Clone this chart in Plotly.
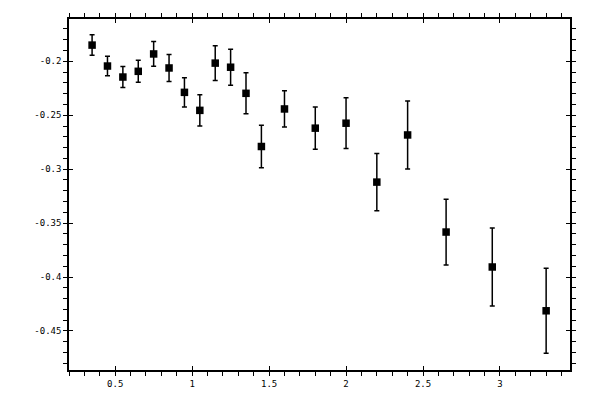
import plotly.graph_objects as go

x_vals = [0.35, 0.45, 0.55, 0.65, 0.75, 0.85, 0.95, 1.05, 1.15, 1.25, 1.35, 1.45,
          1.6, 1.8, 2.0, 2.2, 2.4, 2.65, 2.95, 3.3]
y_vals = [-0.185, -0.2044, -0.2146, -0.2093, -0.1932, -0.2062, -0.2288, -0.2455,
          -0.2017, -0.2055, -0.2297, -0.2790, -0.2442, -0.2620, -0.2574, -0.3120,
          -0.2683, -0.3583, -0.3907, -0.4313]
y_err = [0.0095, 0.0090, 0.0098, 0.0102, 0.0115, 0.0125, 0.0135, 0.0145, 0.0160,
         0.0167, 0.0190, 0.0198, 0.0168, 0.0196, 0.0235, 0.0265, 0.0315, 0.0305,
         0.0362, 0.0394]

x_ticks = [0.5, 1, 1.5, 2, 2.5, 3]
x_tick_text = ["0.5", "1", "1.5", "2", "2.5", "3"]
y_ticks = [-0.2, -0.25, -0.3, -0.35, -0.4, -0.45]
y_tick_text = ["-0.2", "-0.25", "-0.3", "-0.35", "-0.4", "-0.45"]

x_range = [0.2, 3.455]
y_range = [-0.4862, -0.1608]

fig = go.Figure()
fig.add_trace(go.Scatter(
    x=x_vals, y=y_vals, mode="markers",
    marker=dict(symbol="square", size=7.5, color="black"),
    error_y=dict(type="data", array=y_err, visible=True, color="black",
                 thickness=1.5, width=2.5),
    showlegend=False,
))
# invisible trace for inner tick axes
fig.add_trace(go.Scatter(x=[None], y=[None], xaxis="x2", yaxis="y2",
                         showlegend=False, hoverinfo="skip"))

font = dict(family="DejaVu Sans Mono", size=9, color="black")
axis_common = dict(showgrid=False, zeroline=False, showline=True, linecolor="black",
                   linewidth=1.5, mirror="ticks", ticks="outside", ticklen=4,
                   tickwidth=1.2, tickcolor="black", tickfont=font)

fig.update_layout(
    width=600, height=400,
    margin=dict(l=69, r=30, t=19, b=30),
    paper_bgcolor="white", plot_bgcolor="white",
    xaxis=dict(range=x_range, tickvals=x_ticks, ticktext=x_tick_text,
               minor=dict(dtick=0.1, tick0=0, ticks="outside", ticklen=4,
                          tickwidth=1.2, tickcolor="black"),
               **axis_common),
    yaxis=dict(range=y_range, tickvals=y_ticks, ticktext=y_tick_text,
               minor=dict(dtick=0.01, tick0=0, ticks="outside", ticklen=4,
                          tickwidth=1.2, tickcolor="black"),
               **axis_common),
    xaxis2=dict(range=x_range, overlaying="x", tickvals=x_ticks, ticks="inside",
                ticklen=4, tickwidth=1.2, tickcolor="black", showticklabels=False,
                showgrid=False, zeroline=False, showline=False, mirror="ticks"),
    yaxis2=dict(range=y_range, overlaying="y", tickvals=y_ticks, ticks="inside",
                ticklen=4, tickwidth=1.2, tickcolor="black", showticklabels=False,
                showgrid=False, zeroline=False, showline=False, mirror="ticks"),
)

fig.write_html("out.html", config={"displayModeBar": False},
               post_script="document.body.style.margin='0';")
